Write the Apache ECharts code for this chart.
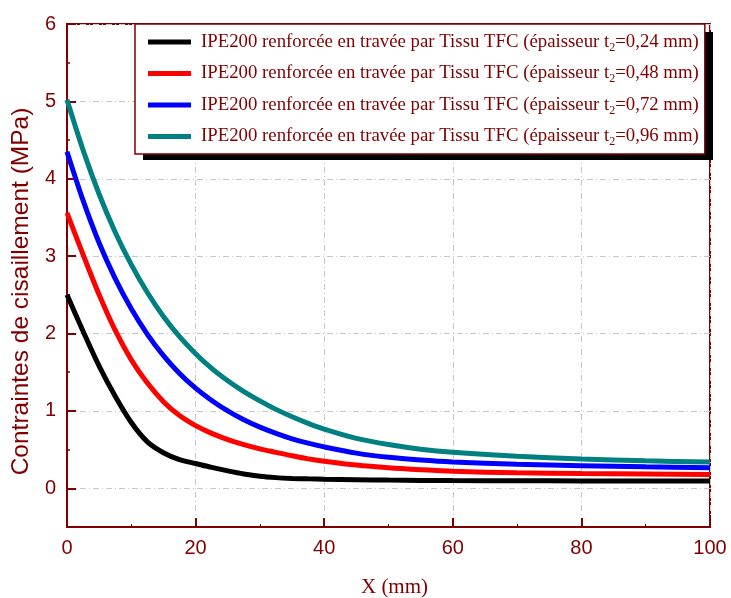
<!DOCTYPE html>
<html>
<head>
<meta charset="utf-8">
<title>Contraintes de cisaillement</title>
<script src="https://cdn.jsdelivr.net/npm/echarts@6/dist/echarts.min.js"></script>
<style>
  html, body { margin: 0; padding: 0; background: #fff; }
  #chart { width: 731px; height: 598px; }
</style>
</head>
<body>
<div id="chart"></div>
<script>
// Distance along the span (mm)
const xValues = [0, 2.5, 5, 7.5, 10, 12.5, 15, 17.5, 20, 22.5, 25, 27.5, 30, 32.5, 35, 37.5, 40, 45, 50, 55, 60, 70, 80, 90, 100];

// Shear stress (MPa) for each fabric thickness t2
const tau024 = [2.50, 2.03, 1.58, 1.19, 0.85, 0.60, 0.46, 0.37, 0.32, 0.27, 0.225, 0.185, 0.155, 0.138, 0.128, 0.122, 0.118, 0.112, 0.106, 0.102, 0.10, 0.098, 0.096, 0.095, 0.095];
const tau048 = [3.56, 3.02, 2.50, 2.04, 1.66, 1.36, 1.12, 0.94, 0.81, 0.71, 0.63, 0.565, 0.51, 0.465, 0.42, 0.38, 0.35, 0.30, 0.265, 0.24, 0.22, 0.20, 0.19, 0.185, 0.18];
const tau072 = [4.35, 3.72, 3.17, 2.71, 2.32, 1.99, 1.715, 1.485, 1.295, 1.135, 1.00, 0.885, 0.79, 0.71, 0.64, 0.583, 0.535, 0.455, 0.40, 0.365, 0.34, 0.31, 0.293, 0.278, 0.265];
const tau096 = [5.02, 4.37, 3.80, 3.31, 2.89, 2.53, 2.22, 1.96, 1.74, 1.55, 1.39, 1.25, 1.13, 1.02, 0.925, 0.84, 0.765, 0.645, 0.565, 0.505, 0.465, 0.415, 0.38, 0.355, 0.34];

const thicknessLabels = ['0,24', '0,48', '0,72', '0,96'];
const seriesValues = [tau024, tau048, tau072, tau096];
const seriesColors = ['#000000', '#ff0000', '#0000ff', '#008080'];

const yMajorTicks = [0, 1, 2, 3, 4, 5, 6];
const yMinorTicks = [0.5, 1.5, 2.5, 3.5, 4.5, 5.5];

const axisRed = '#800000';
const gridDash = { color: '#c8c8c8', width: 1, type: [6, 3, 1, 3] };

const chart = echarts.init(document.getElementById('chart'), null, { renderer: 'canvas' });

const series = seriesValues.map((vals, i) => ({
  name: thicknessLabels[i],
  type: 'line',
  data: xValues.map((x, k) => [x, vals[k]]),
  showSymbol: false,
  smooth: 0.3,
  color: seriesColors[i],
  lineStyle: { width: 5, color: seriesColors[i] },
  itemStyle: { color: seriesColors[i] },
  z: 2 + i
}));

chart.setOption({
  animation: false,
  backgroundColor: '#ffffff',
  grid: {
    left: 67, right: 21, top: 24, bottom: 71,
    outerBoundsMode: 'none',
    containLabel: false,
    show: true, borderColor: axisRed, borderWidth: 2, backgroundColor: 'transparent'
  },
  xAxis: {
    type: 'value',
    min: 0, max: 100, interval: 20,
    name: 'X (mm)',
    nameLocation: 'middle',
    nameGap: 50,
    nameTextStyle: { fontFamily: 'Liberation Serif', fontSize: 21, color: axisRed, padding: [0, 0, 0, 12] },
    axisLine: { show: true, onZero: false, lineStyle: { color: axisRed, width: 2 } },
    axisTick: { show: true, inside: true, length: 9, lineStyle: { color: axisRed, width: 2 } },
    minorTick: { show: true, splitNumber: 2, length: 3, lineStyle: { color: axisRed, width: 1 } },
    axisLabel: { fontFamily: 'Liberation Sans', fontSize: 20, color: axisRed, margin: 11 },
    splitLine: { show: true, lineStyle: gridDash }
  },
  yAxis: [{
    type: 'value',
    min: -0.5, max: 6, splitNumber: 6,
    name: 'Contraintes de cisaillement (MPa)',
    nameLocation: 'middle',
    nameGap: 33,
    nameTextStyle: { fontFamily: 'Liberation Sans', fontSize: 24.5, color: axisRed, padding: [0, 32, 0, 0] },
    axisLine: { show: true, onZero: false, lineStyle: { color: axisRed, width: 2 } },
    axisTick: { show: true, inside: true, length: 9, customValues: yMajorTicks, lineStyle: { color: axisRed, width: 2 } },
    axisLabel: { fontFamily: 'Liberation Sans', fontSize: 20, color: axisRed, margin: 11, customValues: yMajorTicks },
    splitLine: { show: true, lineStyle: gridDash }
  }, {
    type: 'value',
    position: 'left',
    min: -0.5, max: 6,
    axisLine: { show: false, onZero: false },
    axisTick: { show: true, inside: true, length: 3, customValues: yMinorTicks, lineStyle: { color: axisRed, width: 1.5 } },
    axisLabel: { show: false },
    splitLine: { show: false }
  }],
  legend: {
    orient: 'vertical',
    left: 135, top: 24,
    padding: [8, 6, 6, 13],
    itemGap: 10,
    itemWidth: 43, itemHeight: 5,
    icon: 'rect',
    backgroundColor: '#ffffff',
    borderColor: axisRed,
    borderWidth: 1.5,
    borderRadius: 0,
    z: 10,
    formatter: name => 'IPE200 renforcée en travée par Tissu TFC (épaisseur t{sub|2}=' + name + ' mm)',
    textStyle: {
      fontFamily: 'Liberation Serif',
      fontSize: 18.8,
      color: axisRed,
      lineHeight: 20,
      padding: [0, 0, 0, 5],
      rich: {
        sub: { fontFamily: 'Liberation Serif', fontSize: 12, color: axisRed, padding: [11, 0, 0, 0] }
      }
    },
    data: thicknessLabels
  },
  graphic: [{
    type: 'rect',
    left: 143, top: 32,
    shape: { width: 570, height: 128 },
    style: { fill: '#000000' },
    z: 9
  }],
  series: series
});
</script>
</body>
</html>
